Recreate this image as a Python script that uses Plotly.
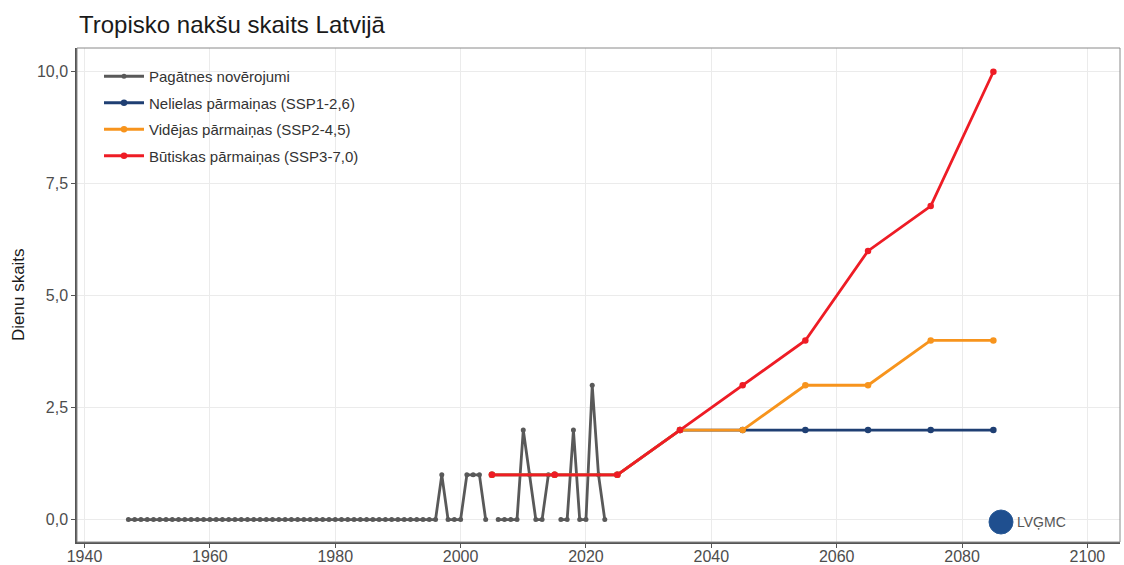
import plotly.graph_objects as go

# Observed data (Pagātnes novērojumi)
obs_years = list(range(1947, 2024))
obs_values = ([0] * (1997 - 1947)            # 1947-1996
              + [1, 0, 0, 0, 1, 1, 1, 0]     # 1997-2004
              + [None]                       # 2005
              + [0, 0, 0, 0, 2, 1, 0, 0, 1]  # 2006-2014
              + [None]                       # 2015
              + [0, 0, 2, 0, 0, 3, 1, 0])    # 2016-2023

proj_years = [2005, 2015, 2025, 2035, 2045, 2055, 2065, 2075, 2085]
ssp126 = [1, 1, 1, 2, 2, 2, 2, 2, 2]
ssp245 = [1, 1, 1, 2, 2, 3, 3, 4, 4]
ssp370 = [1, 1, 1, 2, 3, 4, 6, 7, 10]

names = ["Pagātnes novērojumi", "Nelielas pārmaiņas (SSP1-2,6)",
         "Vidējas pārmaiņas (SSP2-4,5)", "Būtiskas pārmaiņas (SSP3-7,0)"]
colors = ["#595959", "#1f3f73", "#f7941d", "#ee1c25"]

x_ticks = [1940, 1960, 1980, 2000, 2020, 2040, 2060, 2080, 2100]
y_ticks = [0, 2.5, 5, 7.5, 10]
y_labels = ["0,0", "2,5", "5,0", "7,5", "10,0"]

FONT = "Liberation Sans, Arial, sans-serif"
L, R, T, B = 77, 1120, 48, 542
W, H = 1124, 565

fig = go.Figure()
series = [(obs_years, obs_values), (proj_years, ssp126),
          (proj_years, ssp245), (proj_years, ssp370)]
for i, ((xs, ys), nm, col) in enumerate(zip(series, names, colors)):
    fig.add_trace(go.Scatter(
        x=xs, y=ys, name=nm, mode="lines+markers",
        line=dict(color=col, width=2.8),
        marker=dict(color=col, size=5 if i == 0 else 6.5),
        connectgaps=False, legendgroup=f"g{i}"))

pw, ph = R - L, B - T
# LVĢMC logo
fig.add_shape(type="circle", xref="paper", yref="paper",
              x0=(989 - L) / pw, x1=(1013 - L) / pw,
              y0=(B - 534) / ph, y1=(B - 510) / ph,
              fillcolor="#1f4f8f", line=dict(color="#2a5a96", width=1))
fig.add_annotation(text="LVĢMC", xref="paper", yref="paper",
                   x=(1015 - L) / pw, y=(B - 522) / ph,
                   xanchor="left", yanchor="middle", showarrow=False,
                   font=dict(family=FONT, size=14, color="#555555"))
# y-axis title
fig.add_annotation(text="Dienu skaits", xref="paper", yref="paper",
                   x=-(L - 18) / pw, y=(B - 295) / ph, textangle=-90,
                   xanchor="center", yanchor="middle", showarrow=False,
                   font=dict(family=FONT, size=17, color="#1a1a1a"))

fig.update_layout(
    width=W, height=H,
    paper_bgcolor="white", plot_bgcolor="white",
    margin=dict(l=L, r=W - R, t=T, b=H - B, autoexpand=False),
    title=dict(text="Tropisko nakšu skaits Latvijā", x=79 / W, xanchor="left",
               y=1 - 25 / H, yanchor="middle",
               font=dict(family=FONT, size=24, color="#1a1a1a")),
    font=dict(family=FONT, color="#4d4d4d"),
    showlegend=True,
    legend=dict(x=(99 - L) / pw, y=1 - (60 - T) / ph, xanchor="left", yanchor="top",
                bgcolor="rgba(255,255,255,0)", tracegroupgap=4,
                font=dict(size=15, color="#333333"), itemwidth=40),
    xaxis=dict(range=[1938.8, 2105.2], tickvals=x_ticks,
               showgrid=True, gridcolor="#ebebeb", gridwidth=1,
               showline=True, linecolor="#555555", linewidth=1.5,
               ticks="outside", ticklen=4, tickcolor="#555555",
               tickfont=dict(size=16, color="#4d4d4d"), zeroline=False,
               ticklabelstandoff=-5, automargin=False),
    yaxis=dict(range=[-0.5, 10.53], tickvals=y_ticks, ticktext=y_labels,
               showgrid=True, gridcolor="#ebebeb", gridwidth=1,
               showline=True, linecolor="#555555", linewidth=1.5,
               ticks="outside", ticklen=4, tickcolor="#555555",
               tickfont=dict(size=16, color="#4d4d4d"), zeroline=False,
               automargin=False),
)
# thin panel border on top and right
fig.add_shape(type="rect", xref="paper", yref="paper", x0=0, x1=1, y0=0, y1=1,
              line=dict(color="#8a8a8a", width=1), layer="above")

fig.write_html("out.html", config={"displayModeBar": False},
               post_script="document.body.style.margin='0';document.body.style.overflow='hidden';")
